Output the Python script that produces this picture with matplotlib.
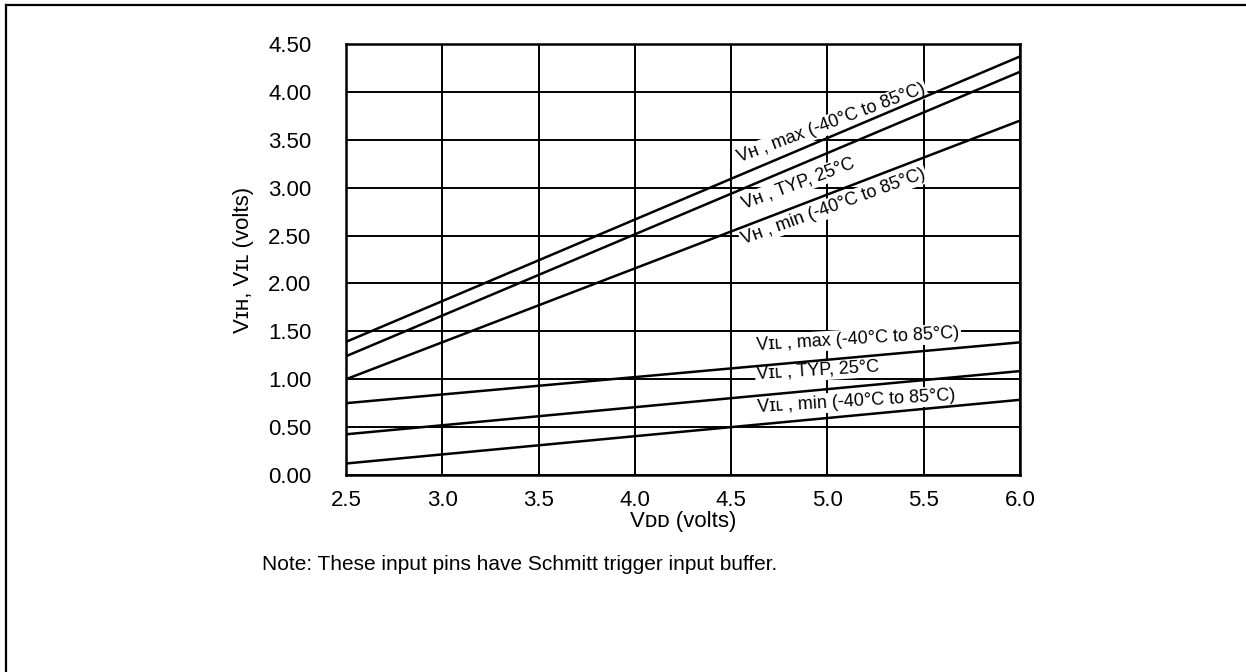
import matplotlib.pyplot as plt
from matplotlib.lines import Line2D

# supply voltage (x) and threshold curves (y)
vdd = [2.5, 6.0]
vih_max = [1.39, 4.37]
vih_typ = [1.24, 4.21]
vih_min = [1.00, 3.70]
vil_max = [0.75, 1.385]
vil_typ = [0.425, 1.085]
vil_min = [0.12, 0.785]

x_ticks = [2.5, 3.0, 3.5, 4.0, 4.5, 5.0, 5.5, 6.0]
y_ticks = [0.0, 0.5, 1.0, 1.5, 2.0, 2.5, 3.0, 3.5, 4.0, 4.5]

# small capitals stand in for the datasheet's subscripts
labels = [
    ("V\u029c , max (-40\u00b0C to 85\u00b0C)", 5.02, 3.67, 20.5),
    ("V\u029c , TYP, 25\u00b0C", 4.85, 3.04, 20.5),
    ("V\u029c , min (-40\u00b0C to 85\u00b0C)", 5.03, 2.80, 20),
    ("V\u026a\u029f , max (-40\u00b0C to 85\u00b0C)", 5.16, 1.42, 3.5),
    ("V\u026a\u029f , TYP, 25\u00b0C", 4.95, 1.09, 3.5),
    ("V\u026a\u029f , min (-40\u00b0C to 85\u00b0C)", 5.15, 0.77, 3.5),
]

plt.rcParams['font.family'] = ['Liberation Sans', 'DejaVu Sans']

fig = plt.figure(figsize=(12.46, 6.72), dpi=100)
ax = fig.add_axes([346 / 1246, 1 - 475 / 672, 674 / 1246, 431 / 672])

for ys in [vih_max, vih_typ, vih_min, vil_max, vil_typ, vil_min]:
    ax.plot(vdd, ys, color="black", lw=1.8, zorder=4, solid_capstyle="butt")

ax.set_xlim(2.5, 6.0)
ax.set_ylim(0.0, 4.5)
ax.set_xticks(x_ticks)
ax.set_xticklabels([f"{v:.1f}" for v in x_ticks])
ax.set_yticks(y_ticks)
ax.set_yticklabels([f"{v:.2f}" for v in y_ticks])
ax.tick_params(length=0, labelsize=16)
ax.tick_params(axis="y", pad=25)
ax.tick_params(axis="x", pad=11)
ax.grid(True, color="black", lw=1.4)
ax.set_axisbelow(True)
for s in ax.spines.values():
    s.set_linewidth(1.8)

for txt, x, y, rot in labels:
    ax.text(x, y, txt, fontsize=13, rotation=rot, rotation_mode="anchor",
            ha="center", va="center", zorder=3,
            bbox=dict(facecolor="white", edgecolor="none", pad=1.0))

ax.set_xlabel("V\u1d05\u1d05 (volts)", fontsize=16, labelpad=0)
ax.set_ylabel("V\u026a\u029c, V\u026a\u029f (volts)", fontsize=16, labelpad=10)

fig.text(520 / 1246, 1 - 565 / 672,
         "Note: These input pins have Schmitt trigger input buffer.",
         fontsize=15, ha="center", va="center")

# outer frame, only top and left edges visible
fig.add_artist(Line2D([6 / 1246, 1], [1 - 5 / 672] * 2, color="black", lw=1.6))
fig.add_artist(Line2D([6 / 1246] * 2, [0, 1 - 5 / 672], color="black", lw=1.6))

fig.savefig("out.png", dpi=100)
